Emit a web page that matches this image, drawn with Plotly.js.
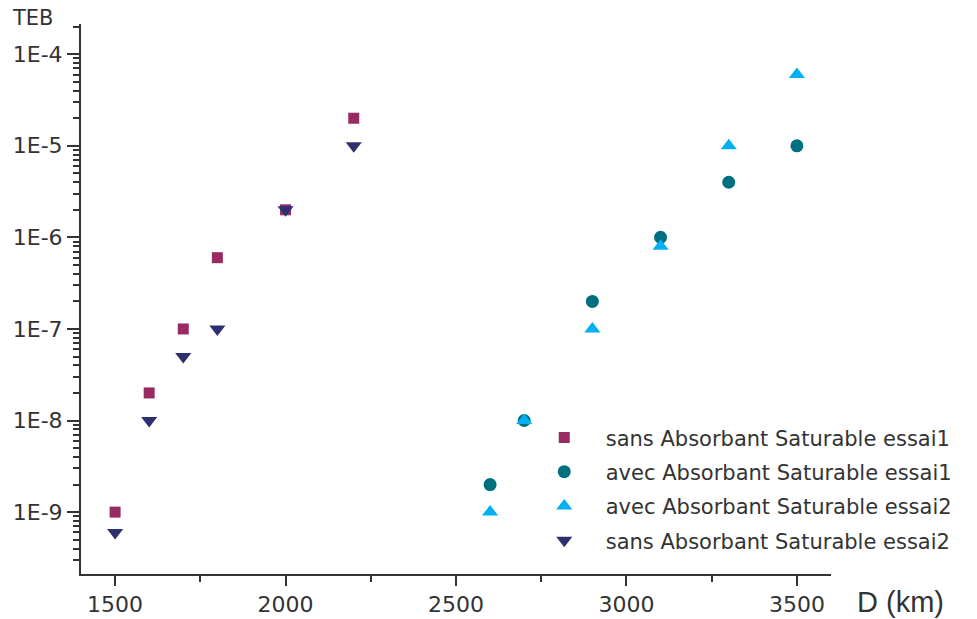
<!DOCTYPE html>
<html>
<head>
<meta charset="utf-8">
<script src="https://cdn.plot.ly/plotly-3.0.1.min.js"></script>
<style>html,body{margin:0;padding:0;background:#fff;}#chart{width:977px;height:619px;}</style>
</head>
<body>
<div id="chart"></div>
<script>
// Data
const seriesNames = [
  'sans Absorbant Saturable essai1',
  'avec Absorbant Saturable essai1',
  'avec Absorbant Saturable essai2',
  'sans Absorbant Saturable essai2'
];
const sansD = [1500, 1600, 1700, 1800, 2000, 2200];
const sansEssai1 = [1e-9, 2e-8, 1e-7, 6e-7, 2e-6, 2e-5];
const sansEssai2 = [6e-10, 1e-8, 5e-8, 1e-7, 2e-6, 1e-5];
const avecD = [2600, 2700, 2900, 3100, 3300, 3500];
const avecEssai1 = [2e-9, 1e-8, 2e-7, 1e-6, 4e-6, 1e-5];
const avecEssai2 = [1e-9, 1e-8, 1e-7, 8e-7, 1e-5, 6e-5];
const yTickVals = [1e-9, 1e-8, 1e-7, 1e-6, 1e-5, 1e-4];
const yTickText = ['1E-9', '1E-8', '1E-7', '1E-6', '1E-5', '1E-4'];
const xTickVals = [1500, 2000, 2500, 3000, 3500];

const minorY = [];
for (let e = -10; e <= -4; e++) {
  for (let m = 2; m <= 9; m++) minorY.push(m * Math.pow(10, e));
}

const font = 'DejaVu Sans, Verdana, sans-serif';

const traces = [
  {x: sansD, y: sansEssai1, name: seriesNames[0], legendgroup: 'a',
   marker: {symbol: 'square', size: 11, color: '#992B63'}},
  {x: avecD, y: avecEssai1, name: seriesNames[1], legendgroup: 'b',
   marker: {symbol: 'circle', size: 13, color: '#00707F'}},
  {x: avecD, y: avecEssai2, name: seriesNames[2], legendgroup: 'c',
   marker: {symbol: 'triangle-up', size: 14, color: '#00B0F0'}},
  {x: sansD, y: sansEssai2, name: seriesNames[3], legendgroup: 'd',
   marker: {symbol: 'triangle-down', size: 14, color: '#2E2F6E'}}
].map(t => Object.assign({type: 'scatter', mode: 'markers', cliponaxis: false}, t));

const layout = {
  width: 977, height: 619,
  paper_bgcolor: '#fff', plot_bgcolor: '#fff',
  margin: {l: 81, r: 146, t: 24, b: 45, autoexpand: false},
  font: {family: font, color: '#333', size: 20},
  showlegend: true,
  legend: {
    x: 0.589, y: 0.285, xanchor: 'left', yanchor: 'top',
    font: {family: font, size: 21, color: '#333'},
    bgcolor: 'rgba(0,0,0,0)', borderwidth: 0,
    itemwidth: 73, tracegroupgap: 4, traceorder: 'grouped'
  },
  xaxis: {
    range: [1400, 3600], showgrid: false, zeroline: false,
    showline: true, linecolor: '#333', linewidth: 2,
    ticks: 'outside', ticklen: 10, tickwidth: 2, tickcolor: '#333',
    tickmode: 'array', tickvals: xTickVals,
    tickfont: {family: font, size: 22, color: '#333'},
    minor: {ticks: 'outside', ticklen: 6, tickwidth: 2, tickcolor: '#333', dtick: 250, tick0: 1250, showgrid: false}
  },
  yaxis: {
    type: 'log', range: [-9.676, -3.67], showgrid: false, zeroline: false,
    showline: true, linecolor: '#333', linewidth: 2,
    ticks: 'outside', ticklen: 12, tickwidth: 2, tickcolor: '#333',
    tickmode: 'array', tickvals: yTickVals, ticktext: yTickText,
    tickfont: {family: font, size: 22, color: '#333'},
    minor: {ticks: 'outside', ticklen: 6, tickwidth: 2, tickcolor: '#333', tickmode: 'array', tickvals: minorY, showgrid: false}
  },
  annotations: [
    {text: 'TEB', xref: 'paper', yref: 'paper', x: -0.095, y: 1.0, xanchor: 'left', yanchor: 'bottom',
     showarrow: false, font: {family: font, size: 21, color: '#333'}, yshift: -8},
    {text: 'D (km)', xref: 'paper', yref: 'paper', x: 1.032, y: 0, xanchor: 'left', yanchor: 'top',
     showarrow: false, font: {family: 'Liberation Sans, Arial, sans-serif', size: 29, color: '#333'}, yshift: -10}
  ]
};

Plotly.newPlot('chart', traces, layout, {displayModeBar: false, staticPlot: true});
</script>
</body>
</html>
